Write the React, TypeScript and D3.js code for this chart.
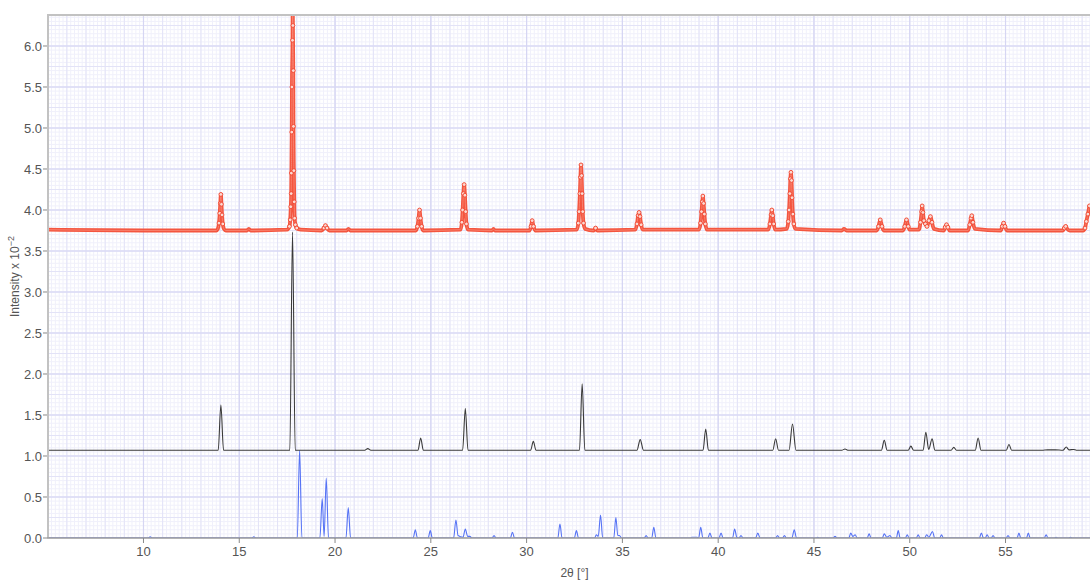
import React from 'react';
import * as d3 from 'd3';

// measured pattern (red, with markers)
const measured: [number, number][] = [
  [5, 3.76], [10, 3.75], [13.8, 3.75],
  [13.88, 3.77], [13.94, 3.84], [13.98, 3.96], [14.01, 4.08], [14.04, 4.19], [14.07, 4.07], [14.1, 3.94], [14.14, 3.83], [14.2, 3.77], [14.3, 3.75],
  [15.4, 3.75], [15.5, 3.77], [15.6, 3.75],
  [17.5, 3.76], [17.62, 3.8], [17.66, 3.88], [17.69, 4.04], [17.71, 4.2], [17.72, 4.45], [17.74, 4.95], [17.75, 5.5], [17.78, 6.07], [17.79, 6.6],
  [17.8, 6.25], [17.82, 5.7], [17.83, 5.02], [17.85, 4.48], [17.87, 4.1], [17.89, 3.9], [17.93, 3.82], [18.0, 3.78], [18.2, 3.76],
  [19.3, 3.75], [19.42, 3.78], [19.5, 3.81], [19.58, 3.78], [19.7, 3.75],
  [20.6, 3.75], [20.7, 3.77], [20.8, 3.75],
  [24.22, 3.75], [24.3, 3.8], [24.36, 3.9], [24.41, 4.0], [24.46, 3.9], [24.52, 3.8], [24.6, 3.75],
  [26.55, 3.76], [26.62, 3.85], [26.66, 4.0], [26.7, 4.2], [26.74, 4.31], [26.78, 4.18], [26.82, 3.98], [26.86, 3.83], [26.94, 3.76],
  [28.2, 3.75], [28.27, 3.77], [28.34, 3.75],
  [30.15, 3.75], [30.23, 3.8], [30.29, 3.87], [30.36, 3.8], [30.45, 3.75],
  [32.62, 3.76], [32.7, 3.84], [32.74, 3.98], [32.78, 4.2], [32.81, 4.4], [32.84, 4.55], [32.87, 4.42], [32.9, 4.2], [32.93, 3.98], [32.97, 3.84], [33.05, 3.77],
  [33.5, 3.75], [33.6, 3.78], [33.7, 3.75],
  [35.68, 3.76], [35.76, 3.83], [35.82, 3.93], [35.87, 3.97], [35.92, 3.92], [35.98, 3.82], [36.06, 3.76],
  [39.0, 3.76], [39.08, 3.84], [39.13, 3.98], [39.17, 4.1], [39.2, 4.17], [39.24, 4.08], [39.28, 3.95], [39.33, 3.83], [39.42, 3.76],
  [42.62, 3.76], [42.7, 3.83], [42.76, 3.94], [42.8, 4.0], [42.85, 3.93], [42.9, 3.83], [42.98, 3.76],
  [43.58, 3.77], [43.66, 3.86], [43.7, 4.0], [43.74, 4.2], [43.77, 4.38], [43.8, 4.46], [43.83, 4.36], [43.86, 4.15], [43.9, 3.95], [43.95, 3.83], [44.03, 3.77],
  [46.45, 3.75], [46.57, 3.77], [46.7, 3.75],
  [48.28, 3.75], [48.37, 3.8], [48.46, 3.88], [48.55, 3.8], [48.64, 3.75],
  [49.65, 3.75], [49.74, 3.8], [49.83, 3.88], [49.92, 3.8], [50.0, 3.76],
  [50.48, 3.76], [50.56, 3.85], [50.62, 3.98], [50.65, 4.05], [50.69, 3.97], [50.74, 3.87], [50.82, 3.83], [50.9, 3.8], [51.0, 3.87], [51.08, 3.92], [51.16, 3.85], [51.26, 3.77],
  [51.78, 3.75], [51.85, 3.79], [51.92, 3.82], [51.99, 3.79], [52.08, 3.75],
  [53.05, 3.75], [53.13, 3.82], [53.2, 3.9], [53.24, 3.93], [53.3, 3.85], [53.4, 3.77],
  [54.75, 3.75], [54.83, 3.8], [54.9, 3.84], [54.97, 3.8], [55.08, 3.75],
  [58.0, 3.75], [58.07, 3.78], [58.14, 3.8], [58.22, 3.77], [58.35, 3.75],
  [59.05, 3.75], [59.15, 3.78], [59.22, 3.86], [59.3, 3.95], [59.38, 4.05],
];

// calculated pattern (black)
const calculated: [number, number][] = [
  [5, 1.07],
  [13.9, 1.07], [14.04, 1.62], [14.18, 1.07],
  [17.64, 1.07], [17.78, 3.73], [17.92, 1.07],
  [21.55, 1.07], [21.71, 1.09], [21.87, 1.07],
  [24.33, 1.07], [24.47, 1.22], [24.61, 1.07],
  [26.66, 1.07], [26.8, 1.58], [26.94, 1.07],
  [30.21, 1.07], [30.35, 1.18], [30.49, 1.07],
  [32.76, 1.07], [32.9, 1.88], [33.04, 1.07],
  [35.76, 1.07], [35.93, 1.2], [36.1, 1.07],
  [39.21, 1.07], [39.35, 1.33], [39.49, 1.07],
  [42.85, 1.07], [43.0, 1.21], [43.15, 1.07],
  [43.7, 1.07], [43.88, 1.39], [44.06, 1.07],
  [46.45, 1.07], [46.62, 1.085], [46.8, 1.07],
  [48.52, 1.07], [48.67, 1.19], [48.82, 1.07],
  [49.92, 1.07], [50.06, 1.12], [50.2, 1.07],
  [50.7, 1.07], [50.84, 1.29], [50.99, 1.08], [51.17, 1.21], [51.31, 1.07],
  [52.16, 1.07], [52.3, 1.105], [52.44, 1.07],
  [53.42, 1.07], [53.57, 1.22], [53.72, 1.07],
  [55.04, 1.07], [55.18, 1.14], [55.32, 1.07],
  [56.9, 1.07], [57.2, 1.075], [57.6, 1.075], [58.0, 1.07],
  [58.17, 1.11], [58.31, 1.075], [58.55, 1.08], [58.7, 1.07],
  [60, 1.07],
];

// reference pattern (blue)
const reference: [number, number][] = [
  [5, 0],
  [10.25, 0], [10.35, 0.015], [10.45, 0],
  [15.66, 0], [15.76, 0.015], [15.86, 0],
  [18.03, 0], [18.15, 1.07], [18.27, 0],
  [19.21, 0], [19.33, 0.48], [19.43, 0.02], [19.54, 0.73], [19.66, 0],
  [20.57, 0], [20.69, 0.37], [20.81, 0],
  [24.08, 0], [24.19, 0.1], [24.3, 0],
  [24.86, 0], [24.97, 0.09], [25.08, 0],
  [26.19, 0], [26.31, 0.22], [26.42, 0.03],
  [26.68, 0.01], [26.8, 0.11], [26.92, 0.02], [27.04, 0.02], [27.14, 0],
  [28.2, 0], [28.3, 0.03], [28.4, 0],
  [29.15, 0], [29.26, 0.07], [29.37, 0],
  [31.63, 0], [31.74, 0.17], [31.85, 0],
  [32.49, 0], [32.6, 0.09], [32.71, 0],
  [33.55, 0], [33.64, 0.04], [33.74, 0.02], [33.86, 0.28], [33.97, 0],
  [34.55, 0], [34.66, 0.25], [34.76, 0.03], [34.85, 0.03], [34.95, 0],
  [36.14, 0], [36.24, 0.03], [36.34, 0],
  [36.53, 0], [36.64, 0.13], [36.75, 0],
  [38.55, 0], [38.62, 0.01], [38.9, 0.01], [38.98, 0], [39.09, 0.13], [39.2, 0],
  [39.46, 0], [39.57, 0.06], [39.68, 0],
  [40.04, 0], [40.15, 0.06], [40.26, 0],
  [40.75, 0], [40.86, 0.11], [40.97, 0.01], [41.09, 0], [41.19, 0.03], [41.3, 0],
  [41.95, 0], [42.07, 0.06], [42.19, 0],
  [43.0, 0], [43.1, 0.03], [43.2, 0],
  [43.36, 0], [43.46, 0.03], [43.56, 0],
  [43.85, 0], [43.97, 0.1], [44.09, 0],
  [45.1, 0], [45.2, 0.01], [45.3, 0],
  [46.0, 0], [46.1, 0.02], [46.2, 0],
  [46.82, 0], [46.92, 0.06], [47.03, 0.02], [47.15, 0.04], [47.26, 0],
  [47.78, 0], [47.88, 0.05], [47.98, 0],
  [48.57, 0], [48.67, 0.05], [48.8, 0.01], [48.97, 0.03], [49.07, 0],
  [49.3, 0], [49.4, 0.09], [49.5, 0],
  [49.77, 0], [49.87, 0.04], [49.97, 0],
  [50.34, 0], [50.44, 0.04], [50.54, 0],
  [50.78, 0], [50.88, 0.04], [51.0, 0.01], [51.19, 0.08], [51.3, 0], [51.56, 0], [51.66, 0.04], [51.76, 0],
  [53.63, 0], [53.74, 0.06], [53.85, 0], [53.94, 0], [54.04, 0.04], [54.15, 0], [54.25, 0], [54.35, 0.03], [54.45, 0],
  [55.03, 0], [55.13, 0.03], [55.23, 0],
  [55.6, 0], [55.7, 0.06], [55.8, 0],
  [56.09, 0], [56.19, 0.06], [56.29, 0],
  [57.02, 0], [57.12, 0.04], [57.22, 0],
  [57.54, 0], [57.64, 0.01], [57.74, 0],
  [58.29, 0], [58.39, 0.01], [58.49, 0],
  [60, 0],
];

const xTicks = [10, 15, 20, 25, 30, 35, 40, 45, 50, 55];
const yTicks = [0, 0.5, 1, 1.5, 2, 2.5, 3, 3.5, 4, 4.5, 5, 5.5, 6];

const W = 1090, H = 581;
const left = 47.7, right = 1101.3, top = 15, bottom = 538;

export default function App() {
  const x = d3.scaleLinear().domain([5, 60]).range([left, right]);
  const y = d3.scaleLinear().domain([0, 6.378]).range([bottom, top]);

  const line = d3
    .line<[number, number]>()
    .x((d) => x(d[0]))
    .y((d) => y(d[1]))
    .curve(d3.curveMonotoneX);

  const xMinor = d3.range(5, 60.01, 0.2);
  const xMid = d3.range(5, 60.01, 1);
  const yMinor = d3.range(0, 6.4, 0.05);
  const yMid = d3.range(0, 6.4, 0.25);

  // markers only where the pattern leaves the dense baseline band
  const markers = measured.filter((d) => d[1] > 3.775);

  const font = '"Liberation Sans", Arial, Helvetica, sans-serif';

  return (
    <svg width={W} height={H} style={{ position: 'absolute', left: 0, top: 0 }} fontFamily={font}>
      <defs>
        <clipPath id="plot">
          <rect x={left} y={top} width={right - left} height={bottom - top} />
        </clipPath>
      </defs>
      <rect x={0} y={0} width={W} height={H} fill="#fff" />

      {/* grid */}
      <g clipPath="url(#plot)">
        {xMinor.map((v, i) => (
          <line key={'xm' + i} x1={x(v)} x2={x(v)} y1={top} y2={bottom} stroke="#f0f0fb" strokeWidth={1} />
        ))}
        {yMinor.map((v, i) => (
          <line key={'ym' + i} x1={left} x2={right} y1={y(v)} y2={y(v)} stroke="#f0f0fb" strokeWidth={1} />
        ))}
        {xMid.map((v, i) => (
          <line key={'xd' + i} x1={x(v)} x2={x(v)} y1={top} y2={bottom} stroke="#e3e3f7" strokeWidth={1} />
        ))}
        {yMid.map((v, i) => (
          <line key={'yd' + i} x1={left} x2={right} y1={y(v)} y2={y(v)} stroke="#e3e3f7" strokeWidth={1} />
        ))}
        {xTicks.map((v) => (
          <line key={'xt' + v} x1={x(v)} x2={x(v)} y1={top} y2={bottom} stroke="#d6d6f3" strokeWidth={1.2} />
        ))}
        {yTicks.map((v) => (
          <line key={'yt' + v} x1={left} x2={right} y1={y(v)} y2={y(v)} stroke="#d6d6f3" strokeWidth={1.2} />
        ))}
      </g>

      {/* series */}
      <g clipPath="url(#plot)">
        <path d={line(reference) || ''} fill="none" stroke="#5673f5" strokeWidth={1.1} />
        <path d={line(calculated) || ''} fill="none" stroke="#3a3a3a" strokeWidth={1.1} />
        <path d={line(measured) || ''} fill="none" stroke="#f4553f" strokeWidth={3.8} strokeLinejoin="round" />
        <path d={line(measured) || ''} fill="none" stroke="#f98a78" strokeWidth={0.8} />
        {markers.map((d, i) => (
          <circle key={'c' + i} cx={x(d[0])} cy={y(d[1])} r={1.9} fill="#fcd9d2" stroke="#f0442e" strokeWidth={0.9} />
        ))}
      </g>

      {/* frame */}
      <line x1={48} x2={48} y1={top - 1} y2={bottom} stroke="#c2c2c2" strokeWidth={2} />
      <line x1={47} x2={W} y1={top} y2={top} stroke="#c2c2c2" strokeWidth={2} />
      <line x1={47} x2={W} y1={bottom} y2={bottom} stroke="#9a9a9a" strokeWidth={1.5} />

      {/* y axis */}
      {yTicks.map((v) => (
        <g key={'yl' + v}>
          <line x1={43} x2={47} y1={y(v)} y2={y(v)} stroke="#888" strokeWidth={1} />
          <text x={42} y={y(v)} dy="0.35em" textAnchor="end" fontSize={13} fill="#555">
            {v.toFixed(1)}
          </text>
        </g>
      ))}

      {/* x axis */}
      {xTicks.map((v) => (
        <g key={'xl' + v}>
          <line x1={x(v)} x2={x(v)} y1={bottom} y2={bottom + 5} stroke="#888" strokeWidth={1} />
          <text x={x(v)} y={556} textAnchor="middle" fontSize={13} fill="#555">
            {v}
          </text>
        </g>
      ))}

      <text x={(left + right) / 2} y={577} textAnchor="middle" fontSize={12} fill="#555">
        2θ [°]
      </text>
      <text transform={`translate(19, ${(top + bottom) / 2}) rotate(-90)`} textAnchor="middle" fontSize={12} fill="#555">
        Intensity x 10<tspan dy="-5" fontSize={9}>−2</tspan>
      </text>
    </svg>
  );
}
